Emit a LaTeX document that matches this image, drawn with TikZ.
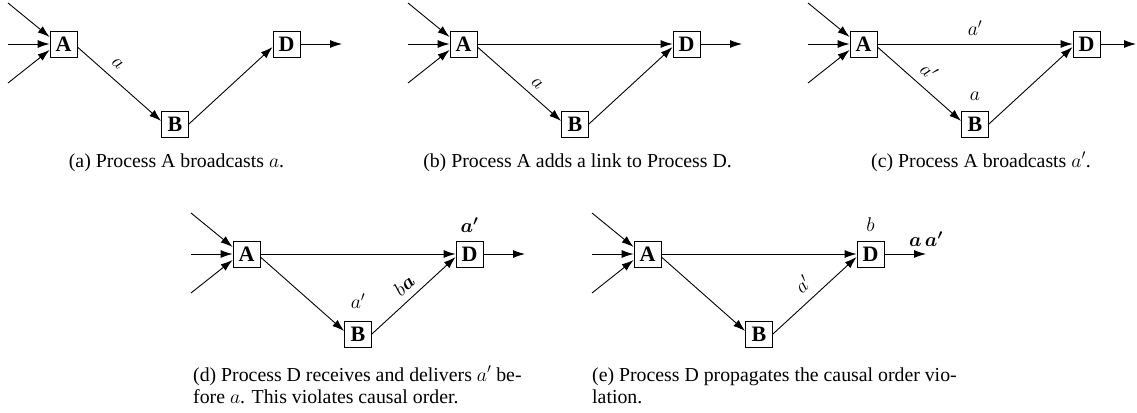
\RequirePackage{fix-cm}
\documentclass[tikz,border=0pt]{standalone}
\usepackage{fontspec}
\setmainfont{Liberation Serif}
\usepackage{bm}
\usetikzlibrary{arrows.meta}
\tikzset{
  proc/.style={draw, line width=0.8pt, minimum width=27pt, minimum height=26pt,
    inner sep=0pt, font=\fontsize{22}{24}\selectfont\bfseries},
  link/.style={line width=0.9pt, -{Latex[length=12pt,width=8pt]}},
  lbl/.style={inner sep=2pt, font=\fontsize{19.8}{22}\selectfont},
  captext/.style={inner sep=0pt, font=\fontsize{19.8}{22}\selectfont},
}
\newcommand\procnodes{%
  \node[proc] (A) at (63.5,44) {A};
  \node[proc] (B) at (175,124) {B};
  \node[proc] (D) at (286.5,44) {D};
  \coordinate (i1) at (8,3);
  \coordinate (i2) at (8,44);
  \coordinate (i3) at (8,83);
  \draw[link] (i1) -- ([yshift=7pt]A.west);
  \draw[link] (i2) -- (A.west);
  \draw[link] (i3) -- ([yshift=-6pt]A.west);
}
\begin{document}
\begin{tikzpicture}[x=1pt, y=-1pt]
\useasboundingbox (0,0) rectangle (1137,412);

% (a)
\begin{scope}[name prefix=a-]
  \procnodes
  \coordinate (o) at (342,44);
  \draw[link] (D.east) -- (o);
  \draw[link] ([yshift=-3pt]A.east) -- ([yshift=3pt]B.west)
    node[lbl, pos=0.37, sloped, above=7pt] {$a$};
  \draw[link] (B.east) -- ([yshift=-3pt]D.west);
\end{scope}
\node[captext, anchor=base] (capa) at (176.5,167) {(a) Process A broadcasts $a$.};

% (b)
\begin{scope}[shift={(400,0)}, name prefix=b-]
  \procnodes
  \coordinate (o) at (342,44);
  \draw[link] (D.east) -- (o);
  \draw[link] (A.east) -- (D.west);
  \draw[link] ([yshift=-3pt]A.east) -- ([yshift=3pt]B.west)
    node[lbl, pos=0.62, sloped, above=5pt] {$a$};
  \draw[link] (B.east) -- ([yshift=-3pt]D.west);
\end{scope}
\node[captext, anchor=base] (capb) at (577.5,167) {(b) Process A adds a link to Process D.};

% (c)
\begin{scope}[shift={(800,0)}, name prefix=c-]
  \procnodes
  \coordinate (o) at (336,44);
  \draw[link] (D.east) -- (o);
  \draw[link] (A.east) -- (D.west)
    node[lbl, midway, above=6pt] {$a'$};
  \draw[link] ([yshift=-3pt]A.east) -- ([yshift=3pt]B.west)
    node[lbl, pos=0.49, sloped, above=6.5pt] {$a'$};
  \draw[link] (B.east) -- ([yshift=-3pt]D.west);
  \node[lbl, anchor=south] (la) at ([yshift=7.5pt]B.north) {$a$};
\end{scope}
\node[captext, anchor=base] (capc) at (981,167) {(c) Process A broadcasts $a'$.};

% (d)
\begin{scope}[shift={(183,210)}, name prefix=d-]
  \procnodes
  \coordinate (o) at (342,44);
  \draw[link] (D.east) -- (o);
  \draw[link] (A.east) -- (D.west);
  \draw[link] ([yshift=-3pt]A.east) -- ([yshift=3pt]B.west);
  \draw[link] (B.east) -- ([yshift=-3pt]D.west)
    node[lbl, pos=0.5, sloped, above=5pt] {$b\bm{a}$};
  \node[lbl, anchor=south] (lb) at ([yshift=10pt]B.north) {$a'$};
  \node[lbl, anchor=south] (ld) at ([yshift=6pt]D.north) {$\bm{a'}$};
\end{scope}
\node[captext, anchor=base west] (capd1) at (193,381) {(d) Process D receives and delivers $a'$ be-};
\node[captext, anchor=base west] (capd2) at (193,403) {fore $a$. This violates causal order.};

% (e)
\begin{scope}[shift={(584,210)}, name prefix=e-]
  \procnodes
  \coordinate (o) at (342,44);
  \draw[link] (D.east) -- (o)
    node[lbl, pos=1, above=5pt] {$\bm{a}\,\bm{a'}$};
  \draw[link] (A.east) -- (D.west);
  \draw[link] ([yshift=-3pt]A.east) -- ([yshift=3pt]B.west);
  \draw[link] (B.east) -- ([yshift=-3pt]D.west)
    node[lbl, pos=0.49, sloped, above=7pt] {$a'$};
  \node[lbl, anchor=south] (lb) at ([yshift=7pt]D.north) {$b$};
\end{scope}
\node[captext, anchor=base west] (cape1) at (592,381) {(e) Process D propagates the causal order vio-};
\node[captext, anchor=base west] (cape2) at (592,403) {lation.};
\end{tikzpicture}
\end{document}
